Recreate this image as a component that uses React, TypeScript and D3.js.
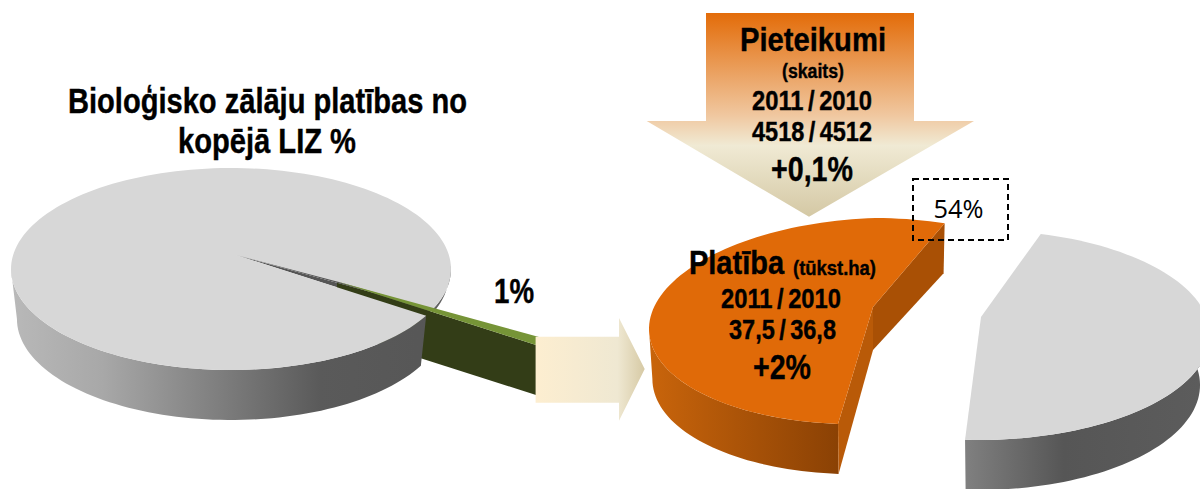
import React from "react";
import * as d3 from "d3";

const leftShares = [99, 1];
const rightShares = [54, 46];
const titleLines = ["Bioloģisko zālāju platības no", "kopējā LIZ %"];
const leftLabel = "1%";
const rightLabel = "54%";
const applicationLines = ["Pieteikumi", "(skaits)", "2011 / 2010", "4518 / 4512", "+0,1%"];
const areaLines = ["Platība", "(tūkst.ha)", "2011 / 2010", "37,5 / 36,8", "+2%"];

type Pie = { cx: number; cy: number; rx: number; ry: number; ax: number; ay: number; depth: number; bs: number; sk?: number };
const rad = (d: number) => (d * Math.PI) / 180;
const skew = (p: Pie, a: number) => (p.sk || 0) * Math.max(0, -Math.sin(rad(a)));
const rim = (p: Pie, a: number): [number, number] => [
  p.cx + p.rx * Math.sin(rad(a)),
  p.cy - p.ry * Math.cos(rad(a)) + skew(p, a),
];
const low = (p: Pie, a: number): [number, number] => [
  p.cx + p.rx * p.bs * Math.sin(rad(a)),
  p.cy + p.depth - p.ry * Math.cos(rad(a)) + skew(p, a),
];
const line = d3.line();
const sweep = (f: (a: number) => [number, number], a0: number, a1: number) => {
  const n = Math.max(2, Math.ceil(Math.abs(a1 - a0) / 2));
  return d3.range(n + 1).map((i) => f(a0 + ((a1 - a0) * i) / n));
};
const slice = (p: Pie, a0: number, a1: number) =>
  line([[p.ax, p.ay] as [number, number], ...sweep((a) => rim(p, a), a0, a1)]) + "Z";
const band = (p: Pie, a0: number, a1: number) =>
  line([...sweep((a) => rim(p, a), a0, a1), ...sweep((a) => low(p, a), a1, a0)]) + "Z";
const poly = (pts: [number, number][]) => line(pts) + "Z";

const leftPie: Pie = { cx: 231, cy: 269, rx: 220, ry: 101, ax: 236, ay: 255, depth: 50, bs: 0.973 };
const leftPieBack: Pie = { ...leftPie, depth: 6, bs: 0.99 };
const orangePie: Pie = { cx: 874, cy: 321, rx: 225, ry: 103, ax: 873, ay: 307, depth: 50, bs: 0.985, sk: 8 };
const grayPie: Pie = { cx: 978, cy: 335, rx: 232, ry: 105, ax: 981, ay: 317, depth: 50, bs: 0.957 };

// share → on-screen angle (the 3D perspective stretches the sweep)
const leftAngle = d3.scaleLinear().domain([0, leftShares[0], 100]).range([117.5, 473.4, 477.5]);
const orangeAngle = d3.scaleLinear().domain([0, rightShares[0]]).range([189.2, 378.3]);
const grayAngle = d3.scaleLinear().domain([0, rightShares[1]]).range([15.7, 183.2]);

const A = "Liberation Sans, Arial, sans-serif";
function T(props: { x: number; y: number; w: number; size: number; children: string; weight?: number; family?: string; ws?: number }) {
  const { x, y, w, size, children, weight = 700, family = A, ws = 0 } = props;
  return (
    <text
      x={x}
      y={y}
      fontSize={size}
      fontWeight={weight}
      fontFamily={family}
      fill="#000"
      stroke={weight === 700 ? "#000" : "none"}
      strokeWidth={weight === 700 ? 0.4 : 0}
      wordSpacing={ws}
      textLength={w}
      lengthAdjust="spacingAndGlyphs"
    >
      {children}
    </text>
  );
}

export default function App() {
  const a0 = leftAngle(0), a1 = leftAngle(leftShares[0]);
  const u1 = rim(leftPie, a1 - 360), u2 = rim(leftPie, a0);
  const pull: [number, number] = [101, 26.5];
  const ext = 1.1;
  const P: [number, number] = [leftPie.ax + pull[0], leftPie.ay + pull[1]];
  const far = (u: [number, number]): [number, number] => [P[0] + (u[0] - leftPie.ax) * ext, P[1] + (u[1] - leftPie.ay) * ext];
  const f1 = far(u1), f2 = far(u2);
  const d = leftPie.depth;
  const o0 = orangeAngle(0), o1 = orangeAngle(rightShares[0]);
  const g0 = grayAngle(0), g1 = grayAngle(rightShares[1]);
  const oA = rim(orangePie, o0), oB = rim(orangePie, o1);
  const oAl = low(orangePie, o0), oBl = low(orangePie, o1);
  const oC: [number, number] = [orangePie.ax, orangePie.ay];
  const oCl: [number, number] = [orangePie.ax, orangePie.ay + 43];

  return (
    <svg width={1200} height={489} viewBox="0 0 1200 489" style={{ position: "absolute", left: 0, top: 0, display: "block" }}>
      <defs>
        <linearGradient id="gl" gradientUnits="userSpaceOnUse" x1={15} x2={451} y1={0} y2={0}>
          <stop offset="0" stopColor="#b8b8b8" />
          <stop offset="0.2" stopColor="#a8a8a8" />
          <stop offset="0.7" stopColor="#5a5a5a" />
          <stop offset="1" stopColor="#565656" />
        </linearGradient>
        <linearGradient id="gr" gradientUnits="userSpaceOnUse" x1={965} x2={1200} y1={0} y2={0}>
          <stop offset="0" stopColor="#808080" />
          <stop offset="0.42" stopColor="#565656" />
          <stop offset="1" stopColor="#5c5c5c" />
        </linearGradient>
        <linearGradient id="go" gradientUnits="userSpaceOnUse" x1={652} x2={840} y1={0} y2={0}>
          <stop offset="0" stopColor="#c8640b" />
          <stop offset="1" stopColor="#8a4104" />
        </linearGradient>
        <linearGradient id="ah" gradientUnits="userSpaceOnUse" x1={535} x2={645} y1={0} y2={0}>
          <stop offset="0" stopColor="#fdeed0" />
          <stop offset="0.75" stopColor="#efe8d2" />
          <stop offset="1" stopColor="#d6c9a4" />
        </linearGradient>
        <linearGradient id="av" gradientUnits="userSpaceOnUse" x1={0} x2={0} y1={13} y2={217}>
          <stop offset="0" stopColor="#e36c09" />
          <stop offset="0.5" stopColor="#f0c79f" />
          <stop offset="0.65" stopColor="#f0ead4" />
          <stop offset="1" stopColor="#d4c8a4" />
        </linearGradient>
      </defs>

      {/* left pie */}
      <path d={band(leftPieBack, 88, a1 - 360)} fill="#626262" />
      <path d={poly([[leftPie.ax, leftPie.ay], u1, u2])} fill="#555" />
      <path d={poly([P, [P[0], P[1] + d], [f2[0], f2[1] + d], f2])} fill="#333d17" />
      <path d={band(leftPie, a0, 270)} fill="url(#gl)" />
      <path d={slice(leftPie, a0, a1)} fill="#d7d7d7" />
      <path d={poly([[leftPie.ax, leftPie.ay], P, [u1[0] - 6, u1[1] - 1.6]])} fill="#555" />
      <path d={poly([P, f1, f2])} fill="#769437" />

      {/* right pie: orange share */}
      <path d={band(orangePie, o0, 270)} fill="url(#go)" />
      <path d={poly([oA, oC, oCl, oAl])} fill="#b95a08" />
      <path d={poly([oC, oB, oBl, oCl])} fill="#a95005" />
      <path d={slice(orangePie, o0, o1)} fill="#e06a08" />

      {/* right pie: gray share */}
      <path d={band(grayPie, g0 + 60, g1)} fill="url(#gr)" />
      <path d={slice(grayPie, g0, g1)} fill="#d7d7d7" />

      {/* arrows */}
      <path d="M535.6 336.7H619V318L644.7 369L619 420.7V402.7H535.6Z" fill="url(#ah)" />
      <path d="M706 13H914V121H974L809 216.7L646.7 121H706Z" fill="url(#av)" />

      {/* labels */}
      <T x={68} y={113} w={399} size={35}>{titleLines[0]}</T>
      <T x={178} y={153} w={178} size={35}>{titleLines[1]}</T>
      <T x={494} y={303} w={40} size={35}>{leftLabel}</T>

      <T x={740} y={51} w={146} size={34}>{applicationLines[0]}</T>
      <T x={782} y={78} w={62} size={20}>{applicationLines[1]}</T>
      <T x={752} y={110} w={120} size={28} ws={-2.5}>{applicationLines[2]}</T>
      <T x={752} y={141} w={120} size={28} ws={-2.5}>{applicationLines[3]}</T>
      <T x={771} y={181} w={82} size={35}>{applicationLines[4]}</T>

      <T x={689} y={274} w={95} size={33}>{areaLines[0]}</T>
      <T x={793} y={275} w={83} size={21}>{areaLines[1]}</T>
      <T x={721} y={308} w={120} size={28} ws={-2.5}>{areaLines[2]}</T>
      <T x={729} y={339} w={107} size={28} ws={-2.5}>{areaLines[3]}</T>
      <T x={753} y={379} w={58} size={35}>{areaLines[4]}</T>

      <rect x={913} y={179} width={95} height={61} fill="none" stroke="#000" strokeWidth={2} strokeDasharray="6 4" />
      <T x={933.5} y={218} w={50} size={25} weight={400} family="Open Sans, sans-serif">{rightLabel}</T>
    </svg>
  );
}
